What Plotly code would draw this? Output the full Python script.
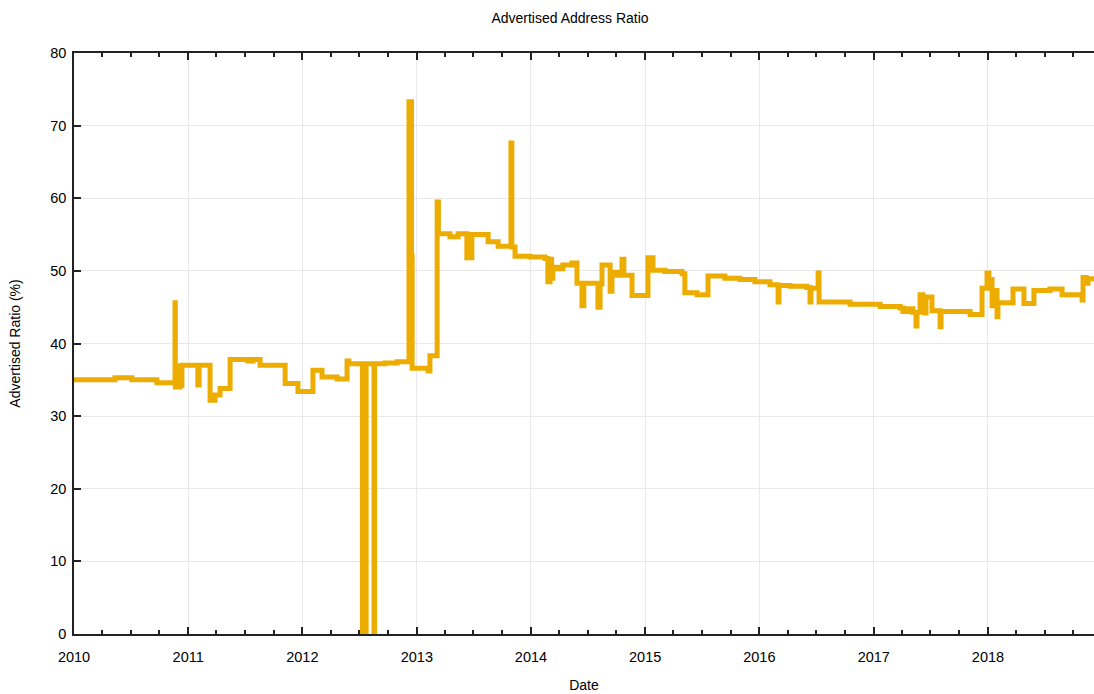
import plotly.graph_objects as go

# Change points of the advertised address ratio (step series)
dates = [
    "2010-01-01", "2010-05-12", "2010-07-05", "2010-09-23", "2010-11-20", "2010-11-21",
    "2010-11-26", "2010-11-29", "2010-12-06", "2010-12-09", "2010-12-12", "2011-02-01",
    "2011-02-05", "2011-03-12", "2011-03-28", "2011-04-13", "2011-05-15", "2011-07-11",
    "2011-07-27", "2011-08-19", "2011-11-07", "2011-12-18", "2012-02-04", "2012-03-04",
    "2012-04-21", "2012-05-23", "2012-05-29", "2012-07-11", "2012-07-23", "2012-08-17",
    "2012-08-19", "2012-09-21", "2012-10-30", "2012-12-07", "2012-12-15", "2012-12-17",
    "2013-02-06", "2013-02-12", "2013-03-07", "2013-03-11", "2013-04-17", "2013-05-13",
    "2013-06-10", "2013-06-26", "2013-08-17", "2013-09-18", "2013-10-29", "2013-11-01",
    "2013-11-11", "2013-12-29", "2014-02-15", "2014-02-24", "2014-03-03", "2014-03-08",
    "2014-03-12", "2014-03-28", "2014-04-13", "2014-05-12", "2014-05-28", "2014-06-13",
    "2014-06-19", "2014-08-03", "2014-08-10", "2014-08-16", "2014-09-11", "2014-09-17",
    "2014-10-03", "2014-10-19", "2014-10-25", "2014-11-20", "2015-01-10", "2015-01-26",
    "2015-03-05", "2015-04-29", "2015-05-08", "2015-06-16", "2015-07-21", "2015-09-13",
    "2015-10-31", "2015-12-18", "2016-02-04", "2016-03-01", "2016-03-04", "2016-04-08",
    "2016-06-01", "2016-06-11", "2016-06-14", "2016-07-07", "2016-07-10", "2016-10-17",
    "2017-01-21", "2017-03-26", "2017-04-04", "2017-04-20", "2017-05-06", "2017-05-16",
    "2017-05-19", "2017-05-29", "2017-06-07", "2017-06-14", "2017-06-17", "2017-07-06",
    "2017-08-01", "2017-08-04", "2017-11-05", "2017-12-13", "2017-12-29", "2018-01-04",
    "2018-01-14", "2018-01-27", "2018-01-30", "2018-02-02", "2018-03-22", "2018-04-26",
    "2018-05-28", "2018-07-18", "2018-08-26", "2018-10-29", "2018-11-01", "2018-11-11",
    "2018-11-17", "2018-12-06",
]
ratio = [
    35.0, 35.3, 35.0, 34.6, 45.6, 34.0,
    36.8, 34.0, 36.9, 34.2, 37.0, 34.3,
    37.0, 32.2, 32.9, 33.8, 37.8, 37.6,
    37.8, 37.0, 34.5, 33.4, 36.3, 35.4,
    35.1, 37.6, 37.2, 0.0, 37.2, 0.0,
    37.2, 37.3, 37.5, 73.3, 52.0, 36.6,
    36.2, 38.3, 59.5, 55.1, 54.7, 55.1,
    51.8, 55.0, 54.0, 53.4, 67.6, 53.3,
    52.0, 51.9, 51.7, 48.5, 51.6, 49.0,
    50.5, 50.3, 50.8, 51.1, 48.3, 45.2,
    48.3, 45.0, 48.2, 50.8, 47.2, 49.8,
    49.4, 51.6, 49.4, 46.6, 51.8, 50.1,
    49.9, 49.6, 47.0, 46.7, 49.3, 49.0,
    48.8, 48.5, 48.1, 45.7, 48.0, 47.9,
    47.7, 45.7, 47.6, 49.7, 45.7, 45.4,
    45.1, 44.9, 44.4, 44.8, 44.3, 42.4,
    44.3, 46.7, 46.3, 44.2, 46.4, 44.5,
    42.3, 44.4, 44.0, 47.6, 49.7, 48.8,
    45.2, 47.3, 43.7, 45.6, 47.5, 45.5,
    47.3, 47.5, 46.7, 46.0, 49.1, 48.3,
    48.9, 48.9,
]

x_range = ["2010-01-01", "2018-12-06"]
y_range = [0, 80]

font = "Liberation Sans, Arial, Helvetica, sans-serif"

fig = go.Figure(
    go.Scatter(
        x=dates,
        y=ratio,
        mode="lines",
        line=dict(color="#ECAC00", width=5, shape="hv"),
        cliponaxis=True,
        showlegend=False,
    )
)

fig.update_layout(
    width=1094,
    height=694,
    margin=dict(l=74, r=0, t=53, b=60),
    paper_bgcolor="white",
    plot_bgcolor="white",
    font=dict(family=font, size=14, color="#000000"),
    title=dict(
        text="Advertised Address Ratio",
        x=570 / 1094,
        xanchor="center",
        xref="container",
        y=1 - 18 / 694,
        yanchor="middle",
        font=dict(family=font, size=14, color="#000000"),
    ),
)

fig.update_xaxes(
    type="date",
    range=x_range,
    tickformat="%Y",
    dtick="M12",
    tick0="2010-01-01",
    ticks="inside",
    ticklen=7,
    tickwidth=1.5,
    tickcolor="#222222",
    showline=True,
    linecolor="#222222",
    linewidth=1.5,
    mirror="allticks",
    showgrid=True,
    gridcolor="#e8e8e8",
    gridwidth=1,
    zeroline=False,
    minor=dict(dtick="M3", ticks="inside", ticklen=4, tickcolor="#222222", showgrid=False),
    ticklabelstandoff=9,
    title=dict(text="Date", standoff=16, font=dict(size=14)),
    tickfont=dict(size=14.5),
)

fig.update_yaxes(
    range=y_range,
    dtick=10,
    ticks="inside",
    ticklen=7,
    tickwidth=1.5,
    tickcolor="#222222",
    showline=True,
    linecolor="#222222",
    linewidth=1.5,
    showgrid=True,
    gridcolor="#e8e8e8",
    gridwidth=1,
    zeroline=False,
    ticklabelstandoff=3,
    title=dict(text="Advertised Ratio (%)", standoff=26, font=dict(size=14)),
    tickfont=dict(size=14.5),
)

fig.write_html("out.html")
